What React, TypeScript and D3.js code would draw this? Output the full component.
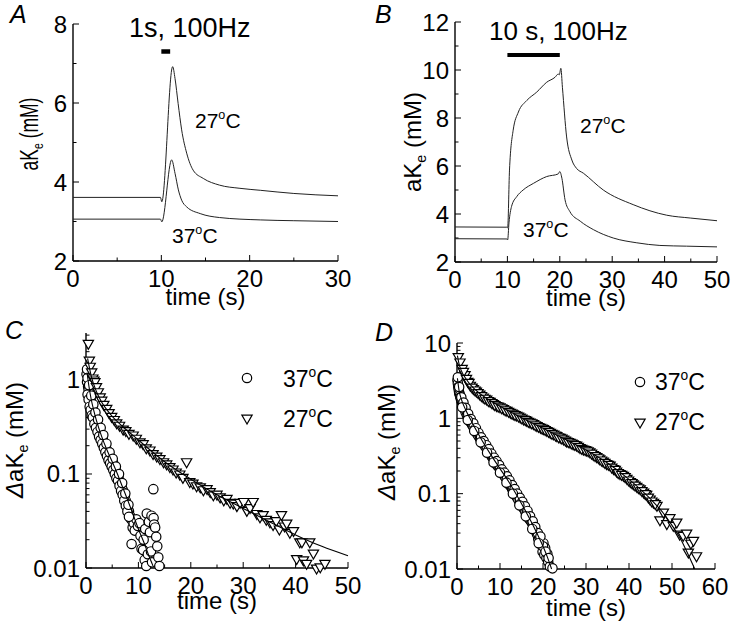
import React from "react";
import * as d3 from "d3";

type Pt = [number, number];

const W = 741;
const H = 635;
const FONT = "'Liberation Sans', Arial, Helvetica, sans-serif";

// panel A: 1 s, 100 Hz train
const traceA27: Pt[] = [[0, 3.61], [9.9, 3.61], [10.05, 3.5], [11.28, 6.92], [11.55, 6.62], [11.9, 5.99], [12.3, 5.32], [12.87, 4.73], [13.6, 4.3], [14.75, 4.09], [16.6, 3.92], [18.9, 3.84], [21.2, 3.79], [25, 3.71], [30, 3.65]];
const traceA37: Pt[] = [[0, 3.06], [9.9, 3.06], [10.05, 2.99], [11.17, 4.56], [11.55, 4.22], [11.93, 3.8], [12.3, 3.54], [12.87, 3.37], [14.4, 3.2], [16.6, 3.1], [21.2, 3.04], [25, 3.02], [30, 3.0]];

// panel B: 10 s, 100 Hz train
const traceB27: Pt[] = [[0, 3.46], [9.9, 3.45], [10.05, 3.42], [10.4, 5.83], [11.1, 7.49], [12.1, 8.25], [13.7, 8.73], [15.6, 9.08], [17.5, 9.49], [19.1, 9.7], [19.7, 9.83], [19.9, 9.8], [20.2, 10.07], [20.5, 9.28], [21.3, 7.21], [22.3, 6.25], [23.2, 5.9], [24.5, 5.7], [28.3, 5.0], [34, 4.39], [40.4, 3.95], [45, 3.83], [50, 3.72]];
const traceB37: Pt[] = [[0, 2.97], [9.9, 2.96], [10.05, 2.92], [10.3, 3.63], [10.8, 4.32], [11.8, 4.73], [13, 5.0], [15, 5.28], [17.5, 5.56], [19.7, 5.67], [20, 5.77], [20.4, 5.49], [21, 4.59], [21.9, 4.11], [23.9, 3.7], [26.4, 3.35], [30.2, 3.0], [34.7, 2.8], [39.1, 2.69], [44.2, 2.66], [50, 2.63]];

// panel C: decay after 1 s train (log)
const decC37: Pt[] = [[0.1, 1.15], [0.2, 0.95], [0.3, 1.05], [0.4, 0.85], [0.5, 0.78], [0.6, 0.72], [0.7, 0.66], [0.8, 0.62], [0.9, 0.6], [1.0, 0.55], [1.1, 0.52], [1.2, 0.5], [1.3, 0.47], [1.4, 0.46], [1.5, 0.43], [1.6, 0.41], [1.7, 0.4], [1.8, 0.38], [1.9, 0.37], [2.0, 0.35], [2.2, 0.33], [2.4, 0.3], [2.6, 0.28], [2.8, 0.27], [3.0, 0.25], [3.2, 0.235], [3.4, 0.22], [3.6, 0.205], [3.8, 0.19], [4.0, 0.18], [4.2, 0.17], [4.4, 0.16], [4.6, 0.152], [4.8, 0.145], [5.0, 0.135], [5.2, 0.13], [5.4, 0.12], [5.6, 0.112], [5.8, 0.105], [6.0, 0.1], [6.2, 0.095], [6.4, 0.085], [6.6, 0.08], [6.8, 0.074], [7.0, 0.068], [7.2, 0.063], [7.4, 0.058], [7.6, 0.052], [7.8, 0.048], [8.0, 0.043], [8.2, 0.04], [8.4, 0.036], [8.6, 0.033], [8.7, 0.018], [8.9, 0.027], [9.1, 0.03], [9.3, 0.025], [9.6, 0.033], [9.9, 0.028], [10.2, 0.03], [10.4, 0.022], [10.6, 0.016], [10.9, 0.0155], [11.0, 0.02], [11.2, 0.0122], [11.3, 0.026], [11.5, 0.0105], [11.6, 0.038], [11.8, 0.014], [12.0, 0.031], [12.2, 0.024], [12.4, 0.015], [12.5, 0.036], [12.6, 0.0115], [12.85, 0.069], [12.9, 0.034], [13.0, 0.029], [13.2, 0.027], [13.4, 0.0215], [13.6, 0.017], [13.8, 0.013], [14.0, 0.0105],
  [0.3, 0.7], [0.5, 0.62], [0.7, 0.52], [0.9, 0.48], [1.1, 0.42], [1.3, 0.4], [1.6, 0.34], [1.9, 0.31], [2.2, 0.28], [2.5, 0.25], [2.8, 0.23], [3.1, 0.21], [3.4, 0.19], [3.7, 0.17], [4.0, 0.155], [4.3, 0.14], [4.6, 0.13], [4.9, 0.12], [5.2, 0.11], [5.5, 0.1], [5.8, 0.09], [6.1, 0.085], [6.4, 0.075], [6.7, 0.066], [7.0, 0.06], [7.3, 0.052], [7.6, 0.046], [7.9, 0.04], [8.2, 0.035],
  [0.2, 1.3], [0.6, 0.88], [1.0, 0.68], [1.4, 0.55], [1.8, 0.45], [2.3, 0.38], [2.8, 0.31], [3.3, 0.26], [3.9, 0.21], [4.5, 0.17], [5.1, 0.145], [5.7, 0.12], [6.3, 0.1], [6.9, 0.08], [7.5, 0.062], [8.1, 0.047]];
const decC27: Pt[] = [[0.45, 2.45], [0.64, 1.63], [0.8, 1.4], [1.08, 1.22], [1.3, 1.05], [1.5, 1.0], [1.7, 0.96], [2.0, 0.85], [2.35, 0.75], [2.7, 0.66], [3.0, 0.61], [3.4, 0.55], [3.95, 0.5], [4.4, 0.45], [4.9, 0.41], [5.4, 0.38], [5.85, 0.35], [6.4, 0.33], [7.1, 0.3], [7.6, 0.29], [8.2, 0.27], [9.0, 0.26], [9.6, 0.24], [10.3, 0.22], [10.9, 0.21], [11.5, 0.19], [12.2, 0.18], [12.8, 0.165], [13.5, 0.155], [14.1, 0.146], [14.8, 0.135], [15.4, 0.128], [16.0, 0.12], [16.6, 0.113], [17.2, 0.105], [17.9, 0.1], [18.5, 0.092], [19.2, 0.135], [19.8, 0.083], [20.4, 0.08], [21.1, 0.075], [21.8, 0.073], [22.4, 0.068], [23.1, 0.07], [23.7, 0.065], [24.3, 0.06], [25.0, 0.061], [25.6, 0.057], [26.3, 0.053], [26.9, 0.055], [27.5, 0.05], [28.1, 0.049], [28.8, 0.046], [29.4, 0.05], [30.1, 0.051], [30.7, 0.041], [31.3, 0.044], [31.9, 0.051], [32.6, 0.038], [33.2, 0.035], [33.8, 0.037], [34.4, 0.033], [35.1, 0.031], [35.7, 0.029], [36.3, 0.032], [36.9, 0.026], [37.3, 0.037], [37.9, 0.028], [38.3, 0.03], [38.9, 0.024], [39.6, 0.025], [40.2, 0.0126], [40.8, 0.019], [41.2, 0.019], [41.5, 0.0122], [42.1, 0.0112], [42.7, 0.019], [43.4, 0.0144], [44.0, 0.01], [44.7, 0.0103], [45.6, 0.0112]];
const fitC37: Pt[] = [[0.2, 1.2], [0.5, 0.9], [1, 0.62], [1.5, 0.47], [2, 0.37], [3, 0.25], [4, 0.18], [5, 0.135], [6, 0.1], [7, 0.072], [8, 0.052], [9, 0.037], [10, 0.026], [11, 0.019], [12, 0.0135], [12.8, 0.0105]];
const fitC27: Pt[] = [[0.3, 1.7], [1, 1.1], [2, 0.75], [3, 0.58], [4, 0.48], [5, 0.41], [7, 0.32], [10, 0.23], [15, 0.135], [20, 0.088], [25, 0.06], [30, 0.043], [35, 0.031], [40, 0.0225], [45, 0.017], [50, 0.0135]];

// panel D: decay after 10 s train (log)
const decD37: Pt[] = [[0.1, 3.2], [0.2, 2.9], [0.3, 2.6], [0.4, 2.4], [0.5, 2.2], [0.6, 2.1], [0.7, 2.0], [0.8, 1.9], [0.9, 1.8], [1.0, 1.72], [1.2, 1.6], [1.4, 1.5], [1.6, 1.42], [1.8, 1.32], [2.0, 1.2], [2.3, 1.1], [2.6, 1.02], [2.9, 0.95], [3.2, 0.88], [3.5, 0.82], [3.8, 0.77], [4.1, 0.72], [4.4, 0.66], [4.7, 0.62], [5.0, 0.58], [5.35, 0.54], [5.7, 0.5], [6.0, 0.47], [6.3, 0.45], [6.6, 0.42], [6.9, 0.4], [7.2, 0.37], [7.5, 0.35], [7.8, 0.33], [8.1, 0.31], [8.45, 0.29], [8.8, 0.27], [9.1, 0.25], [9.4, 0.235], [9.7, 0.225], [10.0, 0.215], [10.3, 0.2], [10.6, 0.185], [10.9, 0.175], [11.2, 0.165], [11.55, 0.158], [11.9, 0.145], [12.2, 0.13], [12.5, 0.125], [12.8, 0.115], [13.1, 0.11], [13.4, 0.1], [13.7, 0.094], [14.0, 0.088], [14.3, 0.082], [14.65, 0.077], [15.0, 0.07], [15.3, 0.066], [15.6, 0.062], [15.9, 0.058], [16.2, 0.054], [16.5, 0.05], [16.8, 0.046], [17.1, 0.044], [17.4, 0.041], [17.75, 0.038], [18.0, 0.034], [18.3, 0.032], [18.6, 0.029], [18.9, 0.025], [19.1, 0.027], [19.3, 0.023], [19.6, 0.021], [19.9, 0.017], [20.1, 0.022], [20.3, 0.0155], [20.5, 0.019], [20.8, 0.014], [21.0, 0.016], [21.2, 0.0125], [21.6, 0.0108], [22.2, 0.0102],
  [0.2, 3.5], [0.5, 2.6], [1.0, 1.9], [1.5, 1.62], [2.0, 1.38], [2.6, 1.15], [3.2, 0.98], [3.8, 0.86], [4.4, 0.74], [5.0, 0.64], [5.6, 0.56], [6.2, 0.5], [6.8, 0.44], [7.4, 0.39], [8.0, 0.34], [8.6, 0.3], [9.2, 0.27], [9.8, 0.24], [10.4, 0.21], [11.0, 0.19], [11.6, 0.17], [12.2, 0.15], [12.8, 0.13], [13.4, 0.115], [14.0, 0.1], [14.6, 0.088], [15.2, 0.078], [15.8, 0.068], [16.4, 0.059], [17.0, 0.05], [17.6, 0.043], [18.2, 0.036], [18.8, 0.03], [19.4, 0.027], [20.0, 0.02], [20.6, 0.017], [21.3, 0.014],
  [1.2, 1.4], [2.5, 0.95], [4.0, 0.68], [5.5, 0.48], [7.0, 0.35], [8.5, 0.26], [10.0, 0.19], [11.5, 0.14], [13.0, 0.1], [14.5, 0.07], [16.0, 0.05], [17.5, 0.034], [19.0, 0.022]];
const decD27: Pt[] = [[0.3, 6.6], [0.7, 5.6], [1.2, 4.6], [1.86, 3.8], [2.5, 3.1], [3.1, 2.75], [3.8, 2.48], [4.5, 2.3], [5.3, 2.1], [6.1, 1.92], [6.9, 1.8], [7.7, 1.68], [8.45, 1.57], [9.2, 1.48], [10.0, 1.42], [10.8, 1.35], [11.6, 1.28], [12.4, 1.2], [13.1, 1.15], [13.9, 1.1], [14.7, 1.04], [15.5, 0.98], [16.2, 0.94], [17.0, 0.89], [17.8, 0.85], [18.6, 0.8], [19.4, 0.76], [20.1, 0.73], [20.9, 0.69], [21.7, 0.65], [22.5, 0.62], [23.2, 0.59], [24.0, 0.56], [24.8, 0.53], [25.5, 0.5], [26.3, 0.48], [27.0, 0.46], [27.8, 0.44], [28.6, 0.41], [29.4, 0.39], [30.1, 0.38], [30.9, 0.36], [31.7, 0.33], [32.5, 0.31], [33.2, 0.29], [34.0, 0.27], [34.8, 0.25], [35.6, 0.24], [36.4, 0.215], [37.1, 0.2], [37.9, 0.185], [38.7, 0.175], [39.5, 0.16], [40.3, 0.145], [41.0, 0.135], [41.8, 0.125], [42.6, 0.116], [43.4, 0.105], [44.1, 0.098], [44.9, 0.085], [45.7, 0.077], [46.5, 0.07], [47.2, 0.045], [48.0, 0.057], [48.8, 0.04], [49.5, 0.048], [50.3, 0.038], [51.1, 0.042], [51.8, 0.029], [52.6, 0.028], [53.4, 0.03], [53.8, 0.0168], [54.4, 0.022], [55.0, 0.024], [55.7, 0.015],
  [1.5, 4.2], [2.2, 3.4], [2.8, 3.0], [3.5, 2.6], [4.2, 2.38], [4.9, 2.2], [5.7, 2.0], [6.5, 1.85], [7.3, 1.72], [8.1, 1.62], [8.8, 1.52], [9.6, 1.45], [10.4, 1.38], [11.2, 1.3], [12.0, 1.24], [12.8, 1.17], [13.5, 1.12], [14.3, 1.07], [15.1, 1.01], [15.9, 0.96], [16.6, 0.91], [17.4, 0.87], [18.2, 0.82], [19.0, 0.78], [19.8, 0.74], [20.5, 0.71], [21.3, 0.67], [22.1, 0.63], [22.9, 0.6], [23.6, 0.57], [24.4, 0.545], [25.2, 0.515], [25.9, 0.49], [26.7, 0.47], [27.4, 0.45], [28.2, 0.425], [29.0, 0.4], [29.8, 0.385], [30.5, 0.37], [31.3, 0.345], [32.1, 0.32], [32.9, 0.3], [33.6, 0.28], [34.4, 0.26], [35.2, 0.245], [36.0, 0.225], [36.8, 0.21], [37.5, 0.19], [38.3, 0.18], [39.1, 0.168], [39.9, 0.152], [40.7, 0.14], [41.4, 0.13], [42.2, 0.12], [43.0, 0.11], [43.8, 0.1], [44.5, 0.09], [45.3, 0.08], [46.1, 0.074]];
const fitD37: Pt[] = [[0.1, 3.4], [0.5, 2.3], [1, 1.8], [2, 1.3], [3, 1.0], [4, 0.78], [6, 0.49], [8, 0.32], [10, 0.215], [12, 0.145], [14, 0.093], [16, 0.058], [18, 0.035], [20, 0.02], [21, 0.0145], [22, 0.01]];
const fitD27: Pt[] = [[0.1, 6.8], [0.5, 5.2], [1, 4.3], [2, 3.4], [3, 2.85], [5, 2.2], [7.5, 1.75], [10, 1.45], [15, 1.02], [20, 0.74], [25, 0.53], [30, 0.38], [35, 0.255], [40, 0.155], [45, 0.085], [48, 0.055], [50, 0.038], [52, 0.025], [54, 0.0145], [55.3, 0.01]];

const stimA: Pt = [10, 11];
const stimB: Pt = [10, 20];

const xTicksA = [0, 10, 20, 30];
const yTicksA = [2, 4, 6, 8];
const xTicksB = [0, 10, 20, 30, 40, 50];
const yTicksB = [2, 4, 6, 8, 10, 12];
const xTicksC = [0, 10, 20, 30, 40, 50];
const yTicksC = [0.01, 0.1, 1];
const xTicksD = [0, 10, 20, 30, 40, 50, 60];
const yTicksD = [0.01, 0.1, 1, 10];

type Scale = (v: number) => number;

const TICK_FS = 24;

function Axes({ x, y, xMajor, xMinor, yMajor, yMinor, yFmt }: any) {
  const [x0, x1] = x.range();
  const [y0, y1] = y.range();
  return (
    <g stroke="#000" fill="none">
      <line x1={x0} x2={x1} y1={y0} y2={y0} strokeWidth={1.4} />
      <line x1={x0} x2={x0} y1={y0} y2={y1} strokeWidth={1.4} />
      {xMajor.map((t: number) => (
        <line key={"xM" + t} x1={x(t)} x2={x(t)} y1={y0} y2={y0 - 6} />
      ))}
      {xMinor.map((t: number) => (
        <line key={"xm" + t} x1={x(t)} x2={x(t)} y1={y0} y2={y0 - 3.5} />
      ))}
      {yMajor.map((t: number) => (
        <line key={"yM" + t} x1={x0} x2={x0 + 6} y1={y(t)} y2={y(t)} />
      ))}
      {yMinor.map((t: number) => (
        <line key={"ym" + t} x1={x0} x2={x0 + 3.5} y1={y(t)} y2={y(t)} />
      ))}
      <g fill="#000" stroke="none" fontFamily={FONT} fontSize={TICK_FS}>
        {xMajor.map((t: number) => (
          <text key={"xl" + t} x={x(t)} y={y0 + 26} textAnchor="middle">{t}</text>
        ))}
        {yMajor.map((t: number) => (
          <text key={"yl" + t} x={x0 - 6} y={y(t) + 8.5} textAnchor="end">{yFmt ? yFmt(t) : t}</text>
        ))}
      </g>
    </g>
  );
}

function Temp({ x, y, label, size }: { x: number; y: number; label: string; size: number }) {
  return (
    <text x={x} y={y} fontFamily={FONT} fontSize={size}>
      {label}
      <tspan dy={-size * 0.42} fontSize={size * 0.6}>o</tspan>
      <tspan dy={size * 0.42}>C</tspan>
    </text>
  );
}

function YLabel({ x, y, delta, squeeze, size }: { x: number; y: number; delta: boolean; squeeze: number; size: number }) {
  return (
    <text transform={`translate(${x},${y}) rotate(-90) scale(${squeeze},1)`} textAnchor="middle" fontFamily={FONT} fontSize={size}>
      {delta ? <tspan fontStyle="italic">Δ</tspan> : null}
      aK
      <tspan dy={5} fontSize={size * 0.6}>e</tspan>
      <tspan dy={-5}> (mM)</tspan>
    </text>
  );
}

function Markers({ data, x, y, kind }: { data: Pt[]; x: Scale; y: Scale; kind: "c" | "t" }) {
  const tri = d3.symbol().type(d3.symbolTriangle).size(46)() as string;
  return (
    <g fill="#fff" stroke="#000" strokeWidth={1.2}>
      {data.map((d, i) =>
        kind === "c" ? (
          <circle key={i} cx={x(d[0])} cy={y(d[1])} r={4.7} />
        ) : (
          <path key={i} d={tri} transform={`translate(${x(d[0])},${y(d[1])}) rotate(180)`} />
        )
      )}
    </g>
  );
}

export default function App() {
  const xA = d3.scaleLinear().domain([0, 30]).range([73, 338]);
  const yA = d3.scaleLinear().domain([2, 8]).range([261, 24]);
  const xB = d3.scaleLinear().domain([0, 50]).range([455, 717]);
  const yB = d3.scaleLinear().domain([2, 12]).range([262, 22]);
  const xC = d3.scaleLinear().domain([0, 50]).range([86, 348]);
  const yC = d3.scaleLog().domain([0.01, 3.16]).range([568, 333]);
  const xD = d3.scaleLinear().domain([0, 60]).range([457, 715]);
  const yD = d3.scaleLog().domain([0.01, 10]).range([569, 343]);

  const lineOf = (x: Scale, y: Scale) =>
    d3.line<Pt>().x((d) => x(d[0])).y((d) => y(d[1])).curve(d3.curveMonotoneX);

  const minorLog = (y: any, major: number[]) => y.ticks().filter((t: number) => !major.some((m) => Math.abs(m - t) < 1e-9));
  const logFmt = d3.format("~g");
  const legendTri = d3.symbol().type(d3.symbolTriangle).size(46)() as string;

  return (
    <svg width={W} height={H} style={{ position: "absolute", left: 0, top: 0, background: "#fff" }}>
      {/* panel letters */}
      <g fontFamily={FONT} fontSize={25} fontStyle="italic">
        <text x={10} y={23}>A</text>
        <text x={375} y={23}>B</text>
        <text x={5} y={339}>C</text>
        <text x={375} y={341}>D</text>
      </g>

      {/* A */}
      <Axes x={xA} y={yA} xMajor={xTicksA} xMinor={d3.range(5, 30, 10)} yMajor={yTicksA} yMinor={d3.range(3, 8, 2)} />
      <path d={lineOf(xA, yA)(traceA27) as string} fill="none" stroke="#222" strokeWidth={1} />
      <path d={lineOf(xA, yA)(traceA37) as string} fill="none" stroke="#222" strokeWidth={1} />
      <line x1={xA(stimA[0])} x2={xA(stimA[1])} y1={51.5} y2={51.5} stroke="#000" strokeWidth={4.5} />
      <text x={129} y={37} fontFamily={FONT} fontSize={27}>1s, 100Hz</text>
      <Temp x={195} y={128} label="27" size={21} />
      <Temp x={172} y={243} label="37" size={21} />
      <YLabel x={38} y={134} delta={false} squeeze={0.7} size={25} />
      <text x={xA(15)} y={305} textAnchor="middle" fontFamily={FONT} fontSize={TICK_FS}>time (s)</text>

      {/* B */}
      <Axes x={xB} y={yB} xMajor={xTicksB} xMinor={d3.range(5, 50, 10)} yMajor={yTicksB} yMinor={d3.range(3, 12, 2)} />
      <path d={lineOf(xB, yB)(traceB27) as string} fill="none" stroke="#222" strokeWidth={1} />
      <path d={lineOf(xB, yB)(traceB37) as string} fill="none" stroke="#222" strokeWidth={1} />
      <line x1={xB(stimB[0])} x2={xB(stimB[1])} y1={55} y2={55} stroke="#000" strokeWidth={4} />
      <text x={489} y={40} fontFamily={FONT} fontSize={26}>10 s, 100Hz</text>
      <Temp x={580} y={133} label="27" size={21} />
      <Temp x={523} y={237} label="37" size={21} />
      <YLabel x={421} y={142} delta={false} squeeze={1} size={24} />
      <text x={xB(25)} y={306} textAnchor="middle" fontFamily={FONT} fontSize={TICK_FS}>time (s)</text>

      {/* C */}
      <Axes x={xC} y={yC} xMajor={xTicksC} xMinor={d3.range(5, 50, 10)} yMajor={yTicksC} yMinor={minorLog(yC, yTicksC)} yFmt={logFmt} />
      <Markers data={decC37} x={xC} y={yC} kind="c" />
      <Markers data={decC27} x={xC} y={yC} kind="t" />
      <path d={lineOf(xC, yC)(fitC37) as string} fill="none" stroke="#000" strokeWidth={1.1} />
      <path d={lineOf(xC, yC)(fitC27) as string} fill="none" stroke="#000" strokeWidth={1.1} />
      <circle cx={247} cy={378} r={4.7} fill="#fff" stroke="#000" strokeWidth={1.2} />
      <path d={legendTri} transform="translate(247,418) rotate(180)" fill="#fff" stroke="#000" strokeWidth={1.2} />
      <Temp x={283} y={387} label="37" size={23} />
      <Temp x={283} y={427} label="27" size={23} />
      <YLabel x={23} y={440} delta={true} squeeze={1} size={24} />
      <text x={xC(25)} y={609} textAnchor="middle" fontFamily={FONT} fontSize={TICK_FS}>time (s)</text>

      {/* D */}
      <Axes x={xD} y={yD} xMajor={xTicksD} xMinor={d3.range(5, 60, 10)} yMajor={yTicksD} yMinor={minorLog(yD, yTicksD)} yFmt={logFmt} />
      <Markers data={decD37} x={xD} y={yD} kind="c" />
      <Markers data={decD27} x={xD} y={yD} kind="t" />
      <path d={lineOf(xD, yD)(fitD37) as string} fill="none" stroke="#000" strokeWidth={1.1} />
      <path d={lineOf(xD, yD)(fitD27) as string} fill="none" stroke="#000" strokeWidth={1.1} />
      <circle cx={640} cy={382} r={4.7} fill="#fff" stroke="#000" strokeWidth={1.2} />
      <path d={legendTri} transform="translate(640,422) rotate(180)" fill="#fff" stroke="#000" strokeWidth={1.2} />
      <Temp x={655} y={390} label="37" size={23} />
      <Temp x={655} y={430} label="27" size={23} />
      <YLabel x={395} y={442} delta={true} squeeze={1} size={24} />
      <text x={xD(30)} y={616} textAnchor="middle" fontFamily={FONT} fontSize={TICK_FS}>time (s)</text>
    </svg>
  );
}
